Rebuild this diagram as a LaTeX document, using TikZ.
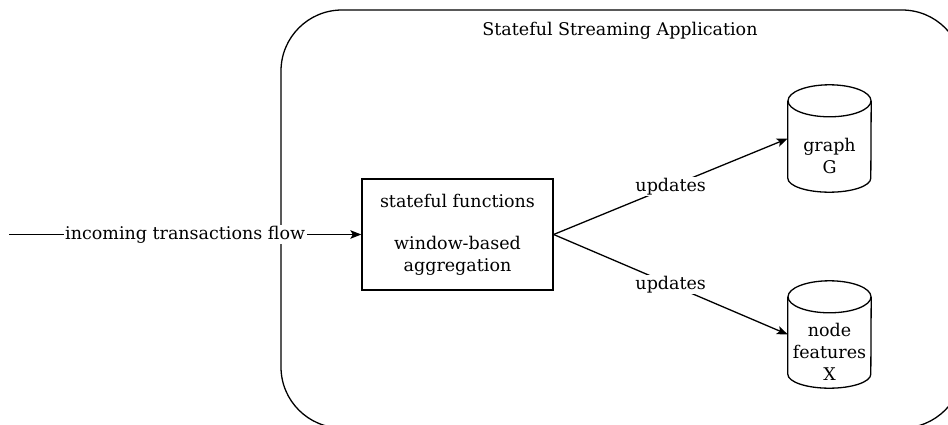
\documentclass[tikz,border=0pt]{standalone}
\usepackage{fontspec}
\setmainfont{DejaVu Serif}
\usetikzlibrary{arrows.meta}

% outline of a vertical drum (database) around a named, undrawn node
\newcommand\drumoutline[1]{%
  \draw[line] ([yshift=-16pt]#1.north) ellipse [x radius=41.5pt, y radius=16pt];
  \draw[line] ([yshift=-16pt]#1.north west) -- ([yshift=14pt]#1.south west)
    arc [start angle=180, end angle=360, x radius=41.5pt, y radius=14pt]
    -- ([yshift=-16pt]#1.north east);
}

\begin{document}
\begin{tikzpicture}[x=1pt, y=-1pt,
  every node/.style={font=\fontsize{17.5}{22}\selectfont, text=black},
  line/.style={line width=1.3pt, draw=black},
  flow/.style={line, -{Stealth[length=11pt, width=8.5pt, inset=2.5pt]}},
  lab/.style={fill=white, inner xsep=1.5pt, inner ysep=1pt},
  drum/.style={draw=none, minimum width=83pt, minimum height=107pt, inner sep=0pt},
]
\useasboundingbox (0,0) rectangle (948,425);
\clip (0,0) rectangle (948,425);

% application container (runs past the right and bottom edges)
\node[line, draw, rounded corners=61pt, minimum width=682pt, minimum height=418pt,
      inner sep=0pt] (app) at (622,219) {};
\node (title) at (620,31) {Stateful Streaming Application};

% processing step
\node[line, draw, minimum width=191pt, minimum height=111pt, align=center, inner sep=0pt]
  (agg) at (457.5,234.5) {\rule{0pt}{4pt}stateful functions\\[20pt]window-based\\aggregation};

% state stores
\node[drum] (graph) at (829.5,138.5) {};
\drumoutline{graph}
\node[align=center] (graphtxt) at ([yshift=-17pt]graph.center) {graph\\G};

\node[drum] (feat) at (829.5,334.5) {};
\drumoutline{feat}
\node[align=center] (feattxt) at ([yshift=-17pt]feat.center) {node\\features\\X};

% connectors
\coordinate (src) at (9,234.5);
\draw[flow] (src) -- node[lab] {incoming transactions flow} (agg.west);
\draw[flow] (agg.east) -- node[lab] {updates} (graph.west);
\draw[flow] (agg.east) -- node[lab] {updates} (feat.west);
\end{tikzpicture}
\end{document}
